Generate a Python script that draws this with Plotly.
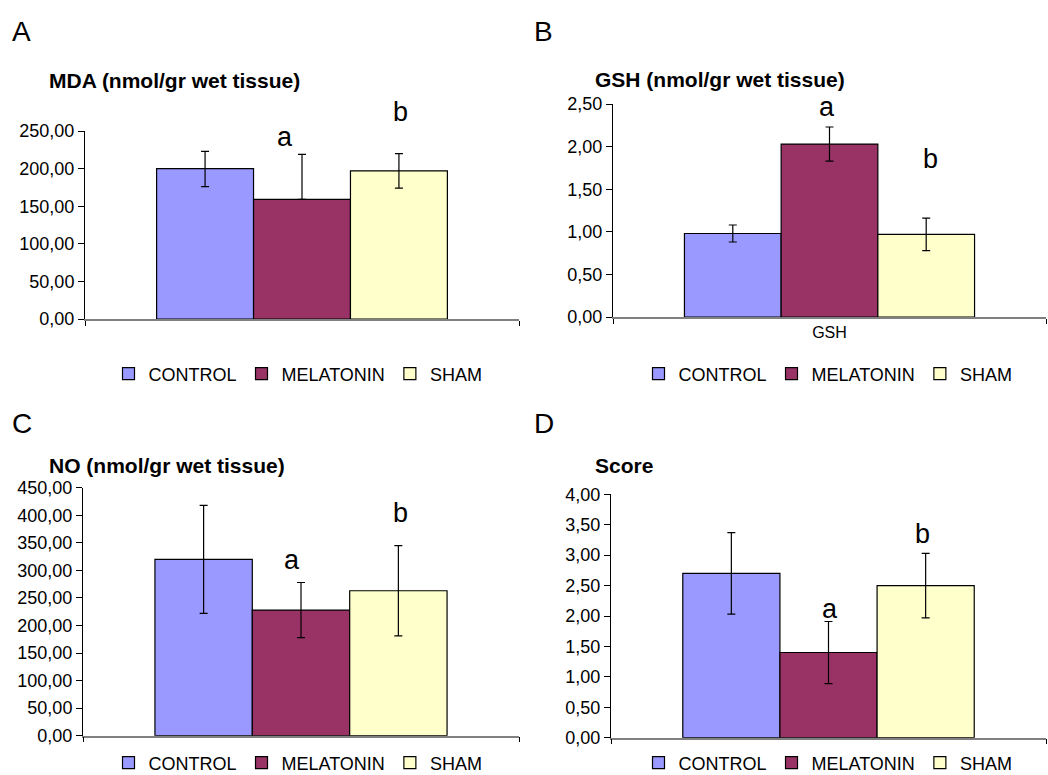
import plotly.graph_objects as go

groups = ["CONTROL", "MELATONIN", "SHAM"]
colors = ["#9999FF", "#993366", "#FFFFCC"]

mda_vals = [200.0, 159.0, 197.0]
mda_err_plus = [23.0, 60.0, 23.0]
mda_err_minus = [24.0, 0.0, 23.0]

gsh_vals = [0.98, 2.03, 0.97]
gsh_err = [0.10, 0.20, 0.19]

no_vals = [320.0, 228.0, 263.0]
no_err = [98.0, 50.0, 82.0]

score_vals = [2.70, 1.40, 2.50]
score_err = [0.67, 0.51, 0.53]

panel_titles = ["MDA (nmol/gr wet tissue)", "GSH (nmol/gr wet tissue)",
                "NO (nmol/gr wet tissue)", "Score"]
panel_letters = ["A", "B", "C", "D"]
x_category_labels = ["", "GSH", "", ""]
sig_letters = ["a", "b"]

FONT = "Arial, Liberation Sans, sans-serif"
W, H = 1048, 775


def px(x):
    return x / W


def py(y):
    return 1 - y / H


fig = go.Figure()

panels = [
    dict(vals=mda_vals, plus=mda_err_plus, minus=mda_err_minus, rng=[0, 250], dtick=50,
         xd=[px(85), px(519)], yd=[py(319), py(131)], legend_xy=(298, 374),
         sig=[(285, 137), (400, 112)]),
    dict(vals=gsh_vals, plus=gsh_err, minus=gsh_err, rng=[0, 2.5], dtick=0.5,
         xd=[px(613), px(1046)], yd=[py(317), py(104)], legend_xy=(828, 374),
         sig=[(827, 107), (930, 159)]),
    dict(vals=no_vals, plus=no_err, minus=no_err, rng=[0, 450], dtick=50,
         xd=[px(83), px(519)], yd=[py(735.7), py(487.7)], legend_xy=(298, 763),
         sig=[(292, 560), (400, 513)]),
    dict(vals=score_vals, plus=score_err, minus=score_err, rng=[0, 4], dtick=0.5,
         xd=[px(611), px(1046)], yd=[py(737.7), py(494.3)], legend_xy=(828, 763),
         sig=[(830, 609), (922, 534)]),
]

for i, p in enumerate(panels):
    n = "" if i == 0 else str(i + 1)
    leg = "legend" + n
    for j, g in enumerate(groups):
        fig.add_trace(go.Bar(
            x=[0], y=[p["vals"][j]], name=g,
            marker=dict(color=colors[j], line=dict(color="#000000", width=1.2)),
            error_y=dict(type="data", symmetric=False,
                         array=[p["plus"][j]], arrayminus=[p["minus"][j]],
                         color="#000000", thickness=1.2, width=4),
            xaxis="x" + n, yaxis="y" + n, legend=leg, offsetgroup=str(j),
        ))
    fig.layout["xaxis" + n] = dict(
        domain=p["xd"], anchor="y" + n, range=[-0.5, 0.5],
        showline=True, linecolor="#808080", linewidth=1.5,
        tickmode="array", tickvals=[0], ticktext=[x_category_labels[i]],
        ticks="", showgrid=False, zeroline=False,
        minor=dict(tickmode="array", tickvals=[-0.5, 0.5], ticks="outside",
                   ticklen=5, tickcolor="#000000", tickwidth=1, showgrid=False),
        tickfont=dict(family=FONT, size=16, color="#000000"),
    )
    fig.layout["yaxis" + n] = dict(
        domain=p["yd"], anchor="x" + n, range=p["rng"], dtick=p["dtick"],
        tickformat=".2f", showline=True, linecolor="#000000", linewidth=1,
        ticks="outside", ticklen=6, tickcolor="#000000", showgrid=False,
        zeroline=False, tickfont=dict(family=FONT, size=18, color="#000000"),
    )
    lx, ly = p["legend_xy"]
    fig.layout[leg] = dict(
        orientation="h", x=px(lx), y=py(ly), xanchor="center", yanchor="middle",
        font=dict(family=FONT, size=18, color="#000000"),
        bgcolor="rgba(0,0,0,0)", itemwidth=30, tracegroupgap=0,
    )
    for (sx, sy), t in zip(p["sig"], sig_letters):
        fig.add_annotation(x=px(sx), y=py(sy), xref="paper", yref="paper", text=t,
                           showarrow=False, xanchor="center", yanchor="middle",
                           font=dict(family=FONT, size=27, color="#000000"))

# Panel titles
title_pos = [(47, 80), (593, 79), (47, 465), (593, 465)]
for (tx, ty), t in zip(title_pos, panel_titles):
    fig.add_annotation(x=px(tx), y=py(ty), xref="paper", yref="paper", text="<b>" + t + "</b>",
                       showarrow=False, xanchor="left", yanchor="middle",
                       font=dict(family=FONT, size=21, color="#000000"))

# Panel letters
letter_pos = [(10, 32), (532, 32), (10, 423), (532, 423)]
for (lx, ly), t in zip(letter_pos, panel_letters):
    fig.add_annotation(x=px(lx), y=py(ly), xref="paper", yref="paper", text=t,
                       showarrow=False, xanchor="left", yanchor="middle",
                       font=dict(family=FONT, size=28, color="#000000"))

fig.update_layout(
    width=W, height=H, margin=dict(l=0, r=0, t=0, b=0, autoexpand=False),
    paper_bgcolor="white", plot_bgcolor="white",
    barmode="group", bargap=0.33, bargroupgap=0,
    separators=",.", showlegend=True,
)

fig.write_html("out.html", config={"displayModeBar": False},
               post_script="document.body.style.margin='0';document.body.style.overflow='hidden';")
